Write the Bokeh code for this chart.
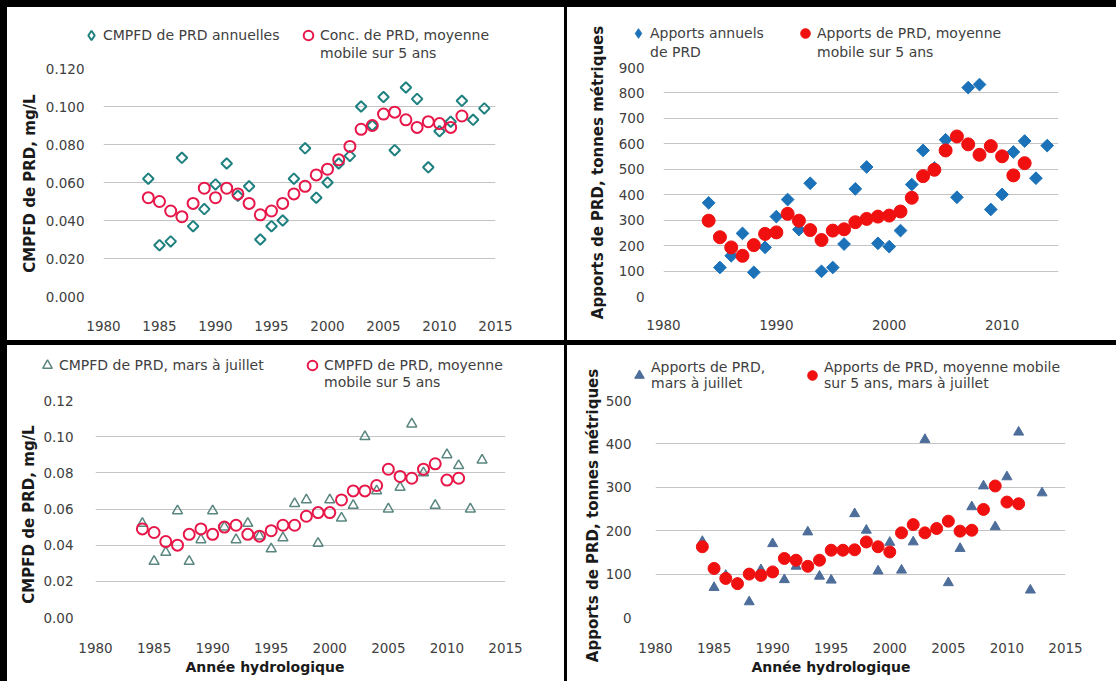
import math
from bokeh.plotting import figure
from bokeh.layouts import row, column
from bokeh.models import (Range1d, SingleIntervalTicker, NumeralTickFormatter,
                          Legend, LegendItem, Title, Spacer)
from bokeh.embed import file_html
from bokeh.resources import INLINE

# ---------------- data ----------------
tl_years_annual = list(range(1984, 2015))
tl_annual = [0.062, 0.027, 0.029, 0.073, 0.037, 0.046, 0.059, 0.070, 0.053, 0.058,
             0.030, 0.037, 0.040, 0.062, 0.078, 0.052, 0.060, 0.070, 0.074, 0.100,
             0.090, 0.105, 0.077, 0.110, 0.104, 0.068, 0.087, 0.092, 0.103, 0.093, 0.099]
tl_years_ma = list(range(1984, 2013))
tl_ma = [0.052, 0.050, 0.045, 0.042, 0.049, 0.057, 0.052, 0.057, 0.054, 0.049,
         0.043, 0.045, 0.049, 0.054, 0.058, 0.064, 0.067, 0.072, 0.079, 0.088,
         0.090, 0.096, 0.097, 0.093, 0.089, 0.092, 0.091, 0.089, 0.095]

tr_years_annual = list(range(1984, 2015))
tr_annual = [368, 114, 160, 248, 95, 193, 314, 381, 263, 445, 99, 114, 206, 423, 509,
             209, 196, 259, 440, 574, 505, 616, 390, 821, 833, 342, 401, 568, 611, 465, 593]
tr_years_ma = list(range(1984, 2013))
tr_ma = [298, 233, 193, 160, 202, 246, 252, 325, 298, 261, 222, 259, 264, 292, 305,
         314, 318, 334, 388, 473, 498, 574, 629, 598, 557, 591, 551, 476, 524]

bl_years_spring = list(range(1984, 2014))
bl_spring = [0.052, 0.031, 0.036, 0.059, 0.031, 0.043, 0.059, 0.050, 0.043, 0.052,
             0.045, 0.038, 0.044, 0.063, 0.065, 0.041, 0.065, 0.055, 0.062, 0.100,
             0.070, 0.060, 0.072, 0.107, 0.080, 0.062, 0.090, 0.084, 0.060, 0.087]
bl_years_ma = list(range(1984, 2012))
bl_ma = [0.049, 0.047, 0.042, 0.040, 0.046, 0.049, 0.046, 0.050, 0.051, 0.046,
         0.045, 0.048, 0.051, 0.051, 0.056, 0.058, 0.058, 0.065, 0.070, 0.070,
         0.073, 0.082, 0.078, 0.077, 0.082, 0.085, 0.076, 0.077]

br_years_spring = list(range(1984, 2014))
br_spring = [175, 69, 97, 80, 36, 110, 170, 87, 118, 197, 95, 86, 155, 239, 201,
             107, 173, 109, 174, 410, 205, 80, 159, 255, 303, 209, 324, 427, 63, 287]
br_years_ma = list(range(1984, 2012))
br_ma = [163, 113, 90, 78, 100, 97, 105, 136, 132, 118, 132, 155, 155, 156, 174,
         163, 151, 195, 214, 195, 205, 222, 199, 201, 249, 303, 266, 262]

tl_labels = [["CMPFD de PRD annuelles"], ["Conc. de PRD, moyenne", "mobile sur 5 ans"]]
tr_labels = [["Apports annuels", "de PRD"], ["Apports de PRD, moyenne", "mobile sur 5 ans"]]
bl_labels = [["CMPFD de PRD, mars à juillet"], ["CMPFD de PRD, moyenne", "mobile sur 5 ans"]]
br_labels = [["Apports de PRD,", "mars à juillet"], ["Apports de PRD, moyenne mobile", "sur 5 ans, mars à juillet"]]

conc_title = "CMPFD de PRD, mg/L"
load_title = "Apports de PRD, tonnes métriques"
x_title = "Année hydrologique"

# ---------------- styling ----------------
FONT = "DejaVu Sans"
TICK_SIZE = "13.5px"
LEG_SIZE = "14px"
YTITLE_SIZE = "15px"
XTITLE_SIZE = "14px"
GRID = "#c4c4c4"
TXT = "#404040"
TTL = "#1a1a1a"

TEAL = "#1f8080"
CRIMSON = "#e8174a"
BLUE = "#1b72b8"
RED = "#f01010"
GREYTEAL = "#5a8680"
SLATE = "#4d6d9a"

S_TL_A = dict(marker="square", angle=math.pi / 4, size=7.5, fill_color=None, line_color=TEAL, line_width=2)
S_TL_B = dict(marker="circle", size=11, fill_color=None, line_color=CRIMSON, line_width=2)
S_TR_A = dict(marker="square", angle=math.pi / 4, size=9, fill_color=BLUE, line_color=BLUE, line_width=1)
S_TR_B = dict(marker="circle", size=13, fill_color=RED, line_color=RED)
S_BL_A = dict(marker="triangle", size=10, fill_color=None, line_color=GREYTEAL, line_width=1.5)
S_BL_B = dict(marker="circle", size=11, fill_color=None, line_color=CRIMSON, line_width=2)
S_BR_A = dict(marker="triangle", size=10, fill_color=SLATE, line_color=SLATE)
S_BR_B = dict(marker="circle", size=12, fill_color=RED, line_color=RED)

# legend glyph looks (legend draws markers unrotated, so use a diamond there)
L_TL_A = dict(marker="diamond", size=10, fill_color=None, line_color=TEAL, line_width=2)
L_TR_A = dict(marker="diamond", size=10, fill_color=BLUE, line_color=BLUE)

WHITE = {"background-color": "white"}


def bare_fig(w, h, left=0, right=0, top=0, bottom=0):
    f = figure(width=w, height=h, output_backend="svg", toolbar_location=None,
               x_axis_type=None, y_axis_type=None,
               min_border_left=left, min_border_right=right,
               min_border_top=top, min_border_bottom=bottom,
               x_range=Range1d(0, 1), y_range=Range1d(0, 1))
    f.frame_align = False
    f.outline_line_color = None
    f.border_fill_color = "white"
    f.background_fill_color = "white"
    return f


def make_fig(w, h, left, right, top, bottom, ymax, yint, xint, yfmt):
    p = figure(width=w, height=h, output_backend="svg", toolbar_location=None,
               x_range=Range1d(1980, 2015), y_range=Range1d(0, ymax),
               min_border_left=left, min_border_right=right,
               min_border_top=top, min_border_bottom=bottom)
    p.frame_align = False
    p.outline_line_color = None
    p.background_fill_color = "white"
    p.border_fill_color = "white"
    p.xgrid.grid_line_color = None
    p.ygrid.grid_line_color = GRID
    p.ygrid.grid_line_width = 1
    p.xaxis.ticker = SingleIntervalTicker(interval=xint)
    p.yaxis.ticker = SingleIntervalTicker(interval=yint)
    p.yaxis.formatter = NumeralTickFormatter(format=yfmt)
    for ax in (p.xaxis[0], p.yaxis[0]):
        ax.axis_line_color = None
        ax.major_tick_line_color = None
        ax.minor_tick_line_color = None
        ax.major_label_text_font = FONT
        ax.major_label_text_font_size = TICK_SIZE
        ax.major_label_text_color = TXT
    return p


def _legend(items, x, y):
    return Legend(items=items, orientation="vertical", location=(x, y),
                  background_fill_alpha=0, border_line_color=None,
                  padding=0, margin=0, spacing=0, label_standoff=0,
                  glyph_width=24, glyph_height=24,
                  label_text_font=FONT, label_text_font_size=LEG_SIZE,
                  label_text_color=TXT)


def legend_fig(w, h, entries):
    """entries: (label lines, legend style, xs, ys, x, [line centres] or ('c', y))"""
    lf = bare_fig(w, h)
    lf.y_range = Range1d(-3, -2)   # the series lie outside this view: only the key shows
    ghost = lf.scatter(entries[0][2], entries[0][3], marker="circle", size=1,
                       fill_alpha=0, line_alpha=0)
    for lines, st, xs, ys, x, pos in entries:
        r = lf.scatter(xs, ys, **st)
        if pos[0] == "c":
            lf.add_layout(_legend([LegendItem(label="\n".join(lines), renderers=[r])], x, pos[1]))
        else:
            for k, (line, yc) in enumerate(zip(lines, pos)):
                rr = r if k == 0 else ghost
                lf.add_layout(_legend([LegendItem(label=line, renderers=[rr])], x, yc - 12))
    return lf


def ytitle_fig(w, h, text, left, top, bottom):
    tf = bare_fig(w, h, left=left, top=top, bottom=bottom)
    tf.add_layout(Title(text=text, align="center", standoff=0,
                        text_font=FONT, text_font_size=YTITLE_SIZE,
                        text_font_style="bold", text_color=TTL), "left")
    return tf


def add_xtitle(p, offset):
    t = Title(text=x_title, align="left", offset=offset,
              text_font=FONT, text_font_size=XTITLE_SIZE, text_font_style="bold",
              text_color=TTL, standoff=2)
    p.add_layout(t, "below")


# ---- top-left ----
t1 = ytitle_fig(35, 333, conc_title, 31, 19, 0)
l1 = legend_fig(522, 54, [
    (tl_labels[0], L_TL_A, tl_years_annual, tl_annual, 37, [26]),
    (tl_labels[1], S_TL_B, tl_years_ma, tl_ma, 254, [26, 8]),
])
p1 = make_fig(522, 279, 61, 69, 7, 44, 0.12, 0.02, 5, "0.000")
p1.yaxis.major_label_standoff = 13
p1.xaxis.major_label_standoff = 18
p1.scatter(tl_years_annual, tl_annual, **S_TL_A)
p1.scatter(tl_years_ma, tl_ma, **S_TL_B)

# ---- top-right ----
t2 = ytitle_fig(40, 333, load_title, 39, 0, 3)
l2 = legend_fig(509, 54, [
    (tr_labels[0], L_TR_A, tr_years_annual, tr_annual, 19, [28, 9]),
    (tr_labels[1], S_TR_B, tr_years_ma, tr_ma, 186, [28, 9]),
])
p2 = make_fig(509, 279, 56, 58, 6, 44, 900, 100, 10, "0")
p2.yaxis.major_label_standoff = 13
p2.xaxis.major_label_standoff = 17
p2.scatter(tr_years_annual, tr_annual, **S_TR_A)
p2.scatter(tr_years_ma, tr_ma, **S_TR_B)

# ---- bottom-left ----
t3 = ytitle_fig(33, 336, conc_title, 30, 2, 0)
l3 = legend_fig(524, 47, [
    (bl_labels[0], S_BL_A, bl_years_spring, bl_spring, -5, [27]),
    (bl_labels[1], S_BL_B, bl_years_ma, bl_ma, 260, [27, 10]),
])
p3 = make_fig(524, 289, 51, 59, 8, 64, 0.12, 0.02, 5, "0.00")
p3.yaxis.major_label_standoff = 16
p3.xaxis.major_label_standoff = 19
p3.scatter(bl_years_spring, bl_spring, **S_BL_A)
p3.scatter(bl_years_ma, bl_ma, **S_BL_B)
add_xtitle(p3, 90)

# ---- bottom-right ----
t4 = ytitle_fig(35, 336, load_title, 34, 4, 0)
l4 = legend_fig(514, 47, [
    (br_labels[0], S_BR_A, br_years_spring, br_spring, 25, ("c", 1)),
    (br_labels[1], S_BR_B, br_years_ma, br_ma, 198, ("c", 1)),
])
p4 = make_fig(514, 289, 51, 51, 8, 64, 500, 100, 5, "0")
p4.yaxis.major_label_standoff = 18
p4.xaxis.major_label_standoff = 19
p4.scatter(br_years_spring, br_spring, **S_BR_A)
p4.scatter(br_years_ma, br_ma, **S_BR_B)
add_xtitle(p4, 96)


def panel(t, l, p):
    return row(t, column(l, p, spacing=0, styles=WHITE), spacing=0, styles=WHITE)


top_row = row(Spacer(width=7, height=333), panel(t1, l1, p1), Spacer(width=3, height=333),
              panel(t2, l2, p2), spacing=0)
bot_row = row(Spacer(width=7, height=336), panel(t3, l3, p3), Spacer(width=3, height=336),
              panel(t4, l4, p4), spacing=0)
layout = column(Spacer(width=1116, height=7), top_row, Spacer(width=1116, height=5), bot_row,
                spacing=0, styles={"background-color": "black"})

open("out.html", "w").write(file_html(layout, INLINE))
